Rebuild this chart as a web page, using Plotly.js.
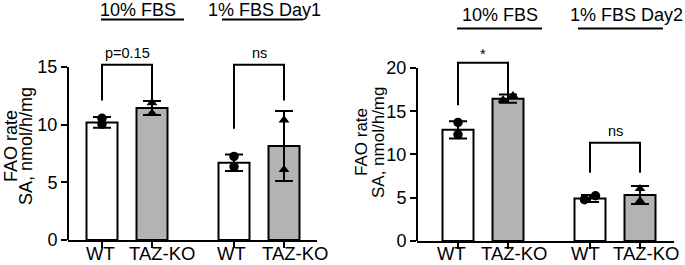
<!DOCTYPE html>
<html>
<head>
<meta charset="utf-8">
<script src="https://cdn.plot.ly/plotly-3.0.1.min.js"></script>
<style>html,body{margin:0;padding:0;background:#fff;}#chart{width:685px;height:265px;}</style>
</head>
<body>
<div id="chart"></div>
<script>
// ---------- data ----------
const categories = ['WT', 'TAZ-KO', 'WT', 'TAZ-KO'];
const groupsA = ['10% FBS', '1% FBS Day1'];
const groupsB = ['10% FBS', '1% FBS Day2'];
const yTicksA = [0, 5, 10, 15];
const yTicksB = [0, 5, 10, 15, 20];
const yTitleLines = ['FAO rate', 'SA, nmol/h/mg'];

// panel A (Day1)
const meanA = [10.2, 11.45, 6.7, 8.15];
const sdA = [0.46, 0.6, 0.72, 3.03];
const rep1A = [10.55, 11.9, 7.25, 10.4];
const rep2A = [10.05, 11.0, 6.35, 6.1];
const sigA = ['p=0.15', 'ns'];
const bracketTopA = [15.2, 15.2];
const bracketLeftA = [12.1, 9.65];
const bracketRightA = [12.15, 12.1];

// panel B (Day2)
const meanB = [12.85, 16.45, 4.92, 5.32];
const sdB = [1.0, 0.48, 0.4, 1.04];
const rep1B = [13.7, 16.3, 4.77, 6.05];
const rep2B = [12.3, 16.8, 5.23, 4.65];
const sigB = ['*', 'ns'];
const bracketTopB = [20.6, 11.35];
const bracketLeftB = [15.7, 7.9];
const bracketRightB = [16.9, 7.9];

// ---------- styling / layout helpers ----------
const W = 685, H = 265;
const pos = [0, 1, 2.64, 3.64];           // category slots
const jitterB1 = [0, -0.1, -0.11, 0];
const jitterB2 = [0, 0.1, 0.11, 0];
const fills = ['#ffffff', '#b3b3b3', '#ffffff', '#b3b3b3'];
const FONT = 'Arial, "Liberation Sans", Helvetica, sans-serif';
const px = v => v / W;
const py = v => (H - v) / H;

function panel(xa, ya, mean, sd, r1, r2, j1, j2) {
  const bar = {
    type: 'bar', x: pos, y: mean, width: 0.62, xaxis: xa, yaxis: ya,
    marker: {color: fills, line: {color: '#000', width: 2}},
    error_y: {type: 'data', array: sd, visible: true, color: '#000', thickness: 2, width: 9},
    hoverinfo: 'skip'
  };
  const sym = ['circle', 'triangle-up', 'circle', 'triangle-up'];
  const pts = {
    type: 'scatter', mode: 'markers', xaxis: xa, yaxis: ya, cliponaxis: false,
    x: pos.map((p, i) => p + j1[i]).concat(pos.map((p, i) => p + j2[i])),
    y: r1.concat(r2),
    marker: {color: '#000', size: 9.5, symbol: sym.concat(sym)},
    hoverinfo: 'skip'
  };
  return [bar, pts];
}

const traces = [].concat(
  panel('x', 'y', meanA, sdA, rep1A, rep2A, [0,0,0,0], [0,0,0,0]),
  panel('x2', 'y2', meanB, sdB, rep1B, rep2B, jitterB1, jitterB2)
);

const shapes = [];
const annotations = [];

function brackets(xa, ya, tops, lefts, rights, labels, shiftPx) {
  for (let g = 0; g < 2; g++) {
    const x0 = pos[2 * g], x1 = pos[2 * g + 1];
    shapes.push({
      type: 'path', xref: xa, yref: ya,
      path: `M ${x0},${lefts[g]} L ${x0},${tops[g]} L ${x1},${tops[g]} L ${x1},${rights[g]}`,
      line: {color: '#000', width: 2}
    });
    annotations.push({
      xref: xa, yref: ya, x: (x0 + x1) / 2, y: tops[g], text: labels[g],
      showarrow: false, yanchor: 'bottom', yshift: shiftPx[g],
      font: {family: FONT, size: 14.5, color: '#000'}
    });
  }
}
brackets('x', 'y', bracketTopA, bracketLeftA, bracketRightA, sigA, [2, 2]);
brackets('x2', 'y2', bracketTopB, bracketLeftB, bracketRightB, sigB, [-1, 2]);

function groupTitles(xa, groups, centers, spans, textY, lineY) {
  groups.forEach((g, i) => {
    annotations.push({
      xref: xa, yref: 'paper', x: centers[i], y: py(textY), text: g,
      showarrow: false, yanchor: 'middle',
      font: {family: FONT, size: 18, color: '#000'}
    });
    shapes.push({
      type: 'line', xref: xa, yref: 'paper', x0: spans[i][0], x1: spans[i][1],
      y0: py(lineY), y1: py(lineY), line: {color: '#000', width: 2}
    });
  });
}
groupTitles('x', groupsA, [0.72, 3.24], [[-0.02, 1.64], [2.4, 4.02]], 10.5, 19.5);
groupTitles('x2', groupsB, [0.84, 3.36], [[-0.02, 1.68], [2.4, 4.1]], 15, 28.5);

// category labels under each x axis
function catLabels(xa, shifts) {
  categories.forEach((c, i) => {
    annotations.push({
      xref: xa, yref: 'paper', x: pos[i], y: py(253.5), xshift: shifts[i], text: c,
      showarrow: false, xanchor: 'center', yanchor: 'middle',
      font: {family: FONT, size: 18.5, color: '#000'}
    });
  });
}
catLabels('x', [-2, 9.5, -3, 11]);
catLabels('x2', [-7, 5.5, -5, 6]);

function yTitle(xLine1, xLine2, yc, size) {
  [xLine1, xLine2].forEach((xc, i) => {
    annotations.push({
      xref: 'paper', yref: 'paper', x: px(xc), y: py(yc), text: yTitleLines[i],
      textangle: -90, showarrow: false, xanchor: 'center', yanchor: 'middle',
      font: {family: FONT, size: size, color: '#000'}
    });
  });
}
yTitle(11, 26, 146, 18);
yTitle(361, 378, 142, 17);

// y axis lines (stop at top tick)
shapes.push({type: 'line', xref: 'x domain', yref: 'y', x0: 0, x1: 0, y0: 0, y1: yTicksA[yTicksA.length - 1], line: {color: '#000', width: 2}});
shapes.push({type: 'line', xref: 'x2 domain', yref: 'y2', x0: 0, x1: 0, y0: 0, y1: yTicksB[yTicksB.length - 1], line: {color: '#000', width: 2}});

function xAxis(domain, range, anchor) {
  return {
    domain: domain, range: range, anchor: anchor,
    tickmode: 'array', tickvals: pos, ticktext: categories, showticklabels: false,
    ticks: 'outside', ticklen: 6, tickwidth: 2, tickcolor: '#000',
    showline: true, linewidth: 2, linecolor: '#000',
    showgrid: false, zeroline: false, fixedrange: true
  };
}
function yAxis(domain, range, anchor, ticks) {
  return {
    domain: domain, range: range, anchor: anchor,
    tickmode: 'array', tickvals: ticks,
    ticks: 'outside', ticklen: 6, tickwidth: 2, tickcolor: '#000',
    showline: false, showgrid: false, zeroline: false, fixedrange: true,
    tickfont: {family: FONT, size: 18, color: '#000'}
  };
}

const layout = {
  width: W, height: H,
  margin: {l: 0, r: 0, t: 0, b: 0},
  paper_bgcolor: '#fff', plot_bgcolor: 'rgba(0,0,0,0)',
  showlegend: false, bargap: 0,
  xaxis: xAxis([px(68), px(317)], [-0.68, 4.3], 'y'),
  yaxis: yAxis([25 / H, (H - 55.5) / H], [0, 16], 'x', yTicksA),
  xaxis2: xAxis([px(417), px(674)], [-0.82, 4.32], 'y2'),
  yaxis2: yAxis([24 / H, (H - 55) / H], [0, 21.5], 'x2', yTicksB),
  shapes: shapes,
  annotations: annotations,
  font: {family: FONT, color: '#000'}
};

Plotly.newPlot('chart', traces, layout, {displayModeBar: false, staticPlot: true});
</script>
</body>
</html>
